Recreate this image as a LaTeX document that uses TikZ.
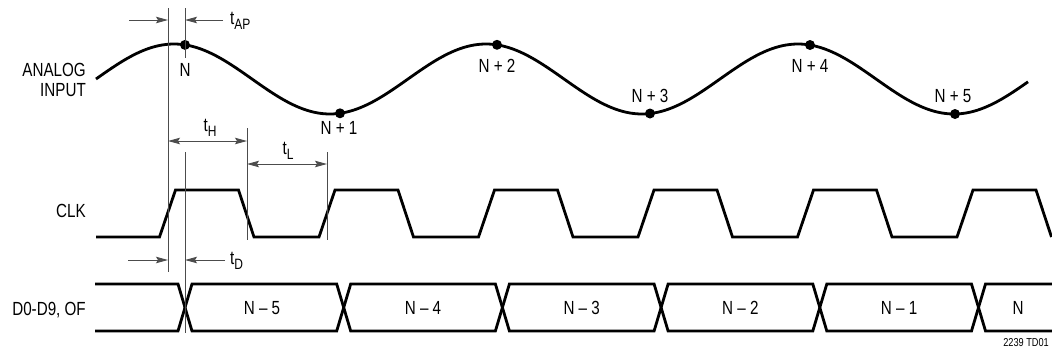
\documentclass[tikz,border=0pt]{standalone}
\usepackage{fontspec}
\setmainfont{Liberation Sans}[FakeStretch=0.8]
\usetikzlibrary{arrows.meta}
\newcommand{\subtxt}[1]{\raisebox{-0.45ex}{\fontsize{15}{15}\selectfont #1}}
\begin{document}
\begin{tikzpicture}[x=1pt,y=-1pt,
  lbl/.style={inner sep=0pt, font=\fontsize{19}{20}\selectfont},
  small/.style={inner sep=0pt, font=\fontsize{11.5}{12}\selectfont},
  wave/.style={line width=2.8pt, line join=miter, black},
  dim/.style={line width=1pt, black!70},
  arr/.style={dim, -{Stealth[length=12pt,width=6.5pt,inset=2pt]}},
  darr/.style={dim, {Stealth[length=12pt,width=6.5pt,inset=2pt]}-{Stealth[length=12pt,width=6.5pt,inset=2pt]}},
  dot/.style={circle, fill=black, inner sep=0pt, minimum size=10pt}]
\useasboundingbox (0,0) rectangle (1052,354);

% signal names
\node[lbl, anchor=east, align=right] (ain) at (86,80) {ANALOG\\INPUT};
\node[lbl, anchor=east] (clk) at (86,211) {CLK};
\node[lbl, anchor=east] (dat) at (86,310) {D0-D9, OF};

% analog input
\draw[wave, line cap=butt] plot[domain=96:1028, samples=240] (\x, {79-35*sin(1.1538462*(\x-96))});
\node[dot] (p0) at (185,44.9) {};
\node[dot] (p1) at (340,113.3) {};
\node[dot] (p2) at (497,44.8) {};
\node[dot] (p3) at (650,113.5) {};
\node[dot] (p4) at (810,45) {};
\node[dot] (p5) at (955,114) {};
\node[lbl] (l0) at (185,70) {N};
\node[lbl] (l1) at (339,128) {N + 1};
\node[lbl] (l2) at (497,66) {N + 2};
\node[lbl] (l3) at (650,96) {N + 3};
\node[lbl] (l4) at (810,66) {N + 4};
\node[lbl] (l5) at (953,96) {N + 5};

% clock
\draw[wave] (96,237) foreach \k in {0,...,5} { -- ({159.5+159.5*\k},237) -- ({175.5+159.5*\k},190) -- ({238.5+159.5*\k},190) -- ({254+159.5*\k},237) };

% data bus
\draw[wave] (95,284)--(178,284)--(192,331)--(336.7,331)--(350.7,284)--(495.4,284)--(509.4,331)--(654.1,331)--(668.1,284)--(812.8,284)--(826.8,331)--(971.5,331)--(985.5,284)--(1056,284);
\draw[wave] (95,331)--(178,331)--(192,284)--(336.7,284)--(350.7,331)--(495.4,331)--(509.4,284)--(654.1,284)--(668.1,331)--(812.8,331)--(826.8,284)--(971.5,284)--(985.5,331)--(1056,331);
\node[lbl] (d5) at (262,308) {N -- 5};
\node[lbl] (d4) at (423,308) {N -- 4};
\node[lbl] (d3) at (581.7,308) {N -- 3};
\node[lbl] (d2) at (740.4,308) {N -- 2};
\node[lbl] (d1) at (899.1,308) {N -- 1};
\node[lbl] (d0) at (1018,308) {N};

% extension lines
\coordinate (v1t) at (168,8);   \coordinate (v1b) at (168,272);
\coordinate (v2t) at (185,8);   \coordinate (v2m) at (185,58);
\coordinate (v2u) at (185,152); \coordinate (v2b) at (185,333);
\coordinate (v3t) at (247,128); \coordinate (v3b) at (247,240);
\coordinate (v4t) at (327,152); \coordinate (v4b) at (327,240);
\draw[dim] (v1t) -- (v1b);
\draw[dim] (v2t) -- (v2m);
\draw[dim] (v2u) -- (v2b);
\draw[dim] (v3t) -- (v3b);
\draw[dim] (v4t) -- (v4b);

% t_AP
\coordinate (apA) at (129,20); \coordinate (apB) at (168,20);
\coordinate (apC) at (223,20); \coordinate (apD) at (185,20);
\draw[arr] (apA) -- (apB);
\draw[arr] (apC) -- (apD);
\node[lbl, anchor=west] (tap) at (230,21) {t\subtxt{AP}};

% t_H
\coordinate (thA) at (168,141); \coordinate (thB) at (247,141);
\draw[darr] (thA) -- (thB);
\node[lbl] (th) at (210,128) {t\subtxt{H}};

% t_L
\coordinate (tlA) at (247,164); \coordinate (tlB) at (327,164);
\draw[darr] (tlA) -- (tlB);
\node[lbl] (tl) at (288,151) {t\subtxt{L}};

% t_D
\coordinate (tdA) at (128,260); \coordinate (tdB) at (168,260);
\coordinate (tdC) at (225,260); \coordinate (tdD) at (185,260);
\draw[arr] (tdA) -- (tdB);
\draw[arr] (tdC) -- (tdD);
\node[lbl, anchor=west] (td) at (230,261) {t\subtxt{D}};

\node[small, anchor=east] (ref) at (1049,343) {2239 TD01};
\end{tikzpicture}
\end{document}
